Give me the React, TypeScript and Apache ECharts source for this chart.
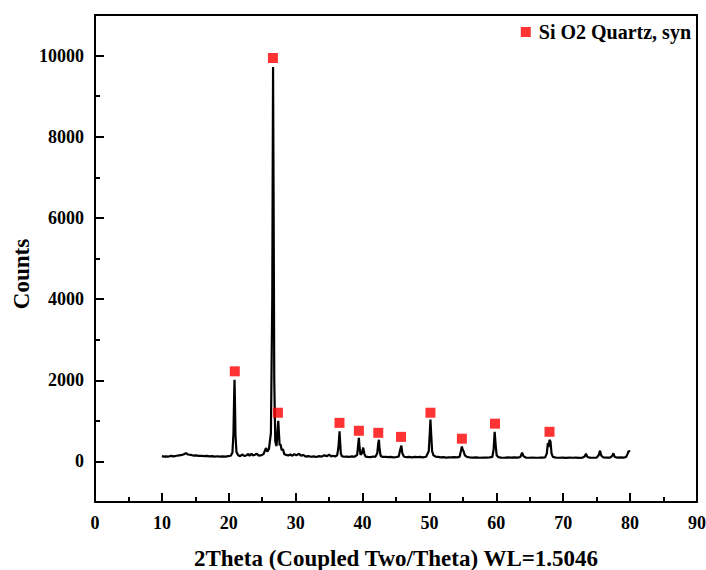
import React, { useEffect, useRef } from "react";
import * as echarts from "echarts";

const FONT = "'Liberation Serif', 'Times New Roman', serif";

// XRD pattern: [2theta, counts]
const patternX: number[] = [
  10.0, 10.3, 10.6, 11.0, 11.4, 11.8, 12.2, 12.6, 13.0, 13.3, 13.6, 13.9, 14.3, 14.7, 15.1, 15.5, 15.9, 16.3, 16.7, 17.1,
  17.5, 17.9, 18.3, 18.7, 19.1, 19.5, 19.9, 20.3, 20.55, 20.7, 20.8, 20.86, 20.92, 21.0, 21.15, 21.4, 21.7, 22.0, 22.3, 22.6,
  22.9, 23.1, 23.4, 23.6, 23.9, 24.2, 24.5, 24.9, 25.2, 25.45, 25.6, 25.75, 26.0, 26.3, 26.5, 26.62, 26.7, 26.8, 26.95, 27.05,
  27.15, 27.3, 27.4, 27.5, 27.6, 27.75, 27.9, 28.1, 28.3, 28.6, 28.9, 29.2, 29.5, 29.8, 30.1, 30.5, 30.8, 31.1, 31.5, 31.9,
  32.3, 32.7, 33.1, 33.5, 33.9, 34.3, 34.7, 35.0, 35.3, 35.6, 35.9, 36.2, 36.4, 36.5, 36.56, 36.62, 36.75, 36.9, 37.2, 37.6,
  38.0, 38.4, 38.8, 39.2, 39.35, 39.45, 39.55, 39.7, 39.9, 40.1, 40.25, 40.45, 40.8, 41.2, 41.6, 41.9, 42.2, 42.35, 42.45, 42.55,
  42.7, 43.0, 43.4, 43.8, 44.2, 44.6, 45.0, 45.4, 45.65, 45.8, 45.95, 46.2, 46.6, 47.0, 47.4, 47.8, 48.2, 48.6, 49.0, 49.5,
  49.9, 50.05, 50.15, 50.25, 50.4, 50.6, 50.9, 51.3, 51.7, 52.1, 52.5, 52.9, 53.3, 53.7, 54.1, 54.5, 54.7, 54.85, 54.95, 55.1,
  55.3, 55.6, 56.0, 56.5, 57.0, 57.5, 58.0, 58.5, 59.0, 59.4, 59.6, 59.75, 59.9, 60.05, 60.3, 60.7, 61.2, 61.7, 62.2, 62.7,
  63.2, 63.6, 63.85, 64.05, 64.4, 64.9, 65.4, 65.9, 66.4, 66.9, 67.3, 67.55, 67.7, 67.8, 67.95, 68.1, 68.25, 68.45, 68.9, 69.4,
  69.9, 70.4, 70.9, 71.4, 71.9, 72.4, 72.9, 73.2, 73.4, 73.6, 74.0, 74.5, 75.0, 75.3, 75.5, 75.7, 76.0, 76.5, 77.0, 77.3,
  77.5, 77.7, 78.1, 78.6, 79.0, 79.4, 79.6, 79.8, 80.0,
];
const patternY: number[] = [
  130, 118, 125, 120, 135, 125, 140, 150, 160, 175, 205, 170, 160, 145, 150, 135, 140, 130, 138, 125,
  132, 120, 128, 118, 125, 120, 130, 140, 220, 700, 1600, 2010, 1500, 650, 230, 150, 130, 170, 135, 145,
  185, 140, 190, 150, 165, 190, 140, 155, 180, 290, 330, 240, 300, 700, 4000, 9720, 6500, 2000, 500, 420,
  380, 800, 1000, 700, 400, 420, 280, 300, 180, 160, 145, 170, 140, 180, 150, 190, 140, 160, 120, 130,
  115, 125, 110, 130, 120, 150, 130, 165, 125, 140, 120, 150, 350, 600, 740, 550, 200, 130, 115, 120,
  110, 125, 115, 160, 420, 580, 350, 160, 200, 340, 200, 120, 110, 105, 120, 110, 200, 450, 535, 300,
  140, 110, 115, 105, 110, 100, 108, 120, 300, 390, 200, 115, 105, 110, 100, 112, 105, 110, 100, 115,
  250, 700, 1030, 700, 250, 150, 120, 110, 100, 105, 95, 100, 98, 105, 100, 110, 250, 365, 300, 250,
  150, 110, 100, 95, 100, 90, 95, 92, 100, 110, 300, 730, 400, 150, 105, 95, 90, 98, 92, 100,
  95, 110, 215, 130, 95, 90, 95, 90, 92, 95, 100, 200, 450, 350, 530, 490, 200, 110, 95, 90,
  95, 88, 92, 90, 95, 88, 95, 120, 190, 110, 95, 90, 95, 150, 265, 140, 100, 92, 95, 130,
  200, 110, 95, 98, 92, 110, 180, 260, 240,
];

// Quartz reference markers
const markerX: number[] = [20.9, 26.6, 27.35, 36.55, 39.45, 42.35, 45.75, 50.15, 54.85, 59.8, 67.95];
const markerY: number[] = [2220, 9940, 1200, 950, 755, 705, 605, 1200, 560, 930, 730];

const yMajor: number[] = [0, 2000, 4000, 6000, 8000, 10000];
const yMinor: number[] = [1000, 3000, 5000, 7000, 9000];

export default function App() {
  const ref = useRef<HTMLDivElement>(null);
  useEffect(() => {
    if (!ref.current) return;
    const chart = echarts.init(ref.current, undefined, { renderer: "svg" });
    const lineData = patternX.map((x, i) => [x, patternY[i]]);
    const markData = markerX.map((x, i) => [x, markerY[i]]);
    const axisFont = { fontFamily: FONT, fontWeight: "bold" as const, fontSize: 18, color: "#000" };
    chart.setOption({
      animation: false,
      backgroundColor: "#fff",
      grid: {
        left: 95,
        right: 9,
        top: 15,
        bottom: 68,
        show: true,
        borderColor: "#000",
        borderWidth: 2,
        containLabel: false,
        outerBoundsMode: "none",
      },
      legend: {
        right: 10,
        top: 17,
        itemWidth: 10,
        itemHeight: 10,
        icon: "rect",
        textStyle: { fontFamily: FONT, fontWeight: "bold", fontSize: 20, color: "#000", padding: [0, 0, 0, 3] },
        data: ["Si O2 Quartz, syn"],
      },
      graphic: [
        {
          type: "text",
          x: 21,
          y: 274,
          rotation: Math.PI / 2,
          style: {
            text: "Counts",
            fontFamily: FONT,
            fontWeight: "bold",
            fontSize: 23,
            fill: "#000",
            align: "center",
            verticalAlign: "middle",
          },
        },
      ],
      xAxis: {
        type: "value",
        min: 0,
        max: 90,
        interval: 10,
        name: "2Theta (Coupled Two/Theta) WL=1.5046",
        nameLocation: "middle",
        nameGap: 45,
        nameTextStyle: { fontFamily: FONT, fontWeight: "bold", fontSize: 23, color: "#000" },
        axisLine: { show: true, onZero: false, lineStyle: { color: "#000", width: 2 } },
        axisTick: { show: true, inside: true, length: 9, lineStyle: { color: "#000", width: 2 } },
        minorTick: { show: true, splitNumber: 2, length: 5, lineStyle: { color: "#000", width: 2 } },
        axisLabel: { ...axisFont, margin: 12 },
        splitLine: { show: false },
      },
      yAxis: [
        {
          type: "value",
          min: -1000,
          max: 11000,
          axisLine: { show: true, onZero: false, lineStyle: { color: "#000", width: 2 } },
          axisTick: { show: true, inside: true, length: 9, customValues: yMajor, lineStyle: { color: "#000", width: 2 } },
          axisLabel: { ...axisFont, margin: 11, customValues: yMajor, formatter: (v: number) => String(v) },
          splitLine: { show: false },
        },
        {
          type: "value",
          min: -1000,
          max: 11000,
          position: "left",
          axisLine: { show: false },
          axisTick: { show: true, inside: true, length: 5, customValues: yMinor, lineStyle: { color: "#000", width: 2 } },
          axisLabel: { show: false, customValues: yMinor },
          splitLine: { show: false },
        },
      ],
      series: [
        {
          type: "line",
          name: "pattern",
          data: lineData,
          symbol: "none",
          lineStyle: { color: "#000", width: 2.2 },
          z: 2,
        },
        {
          type: "scatter",
          name: "Si O2 Quartz, syn",
          data: markData,
          symbol: "rect",
          symbolSize: 10,
          itemStyle: { color: "#ff0000" },
          z: 3,
        },
      ],
    });
    return () => chart.dispose();
  }, []);
  return <div ref={ref} style={{ position: "absolute", left: 0, top: 0, width: 706, height: 570 }} />;
}
